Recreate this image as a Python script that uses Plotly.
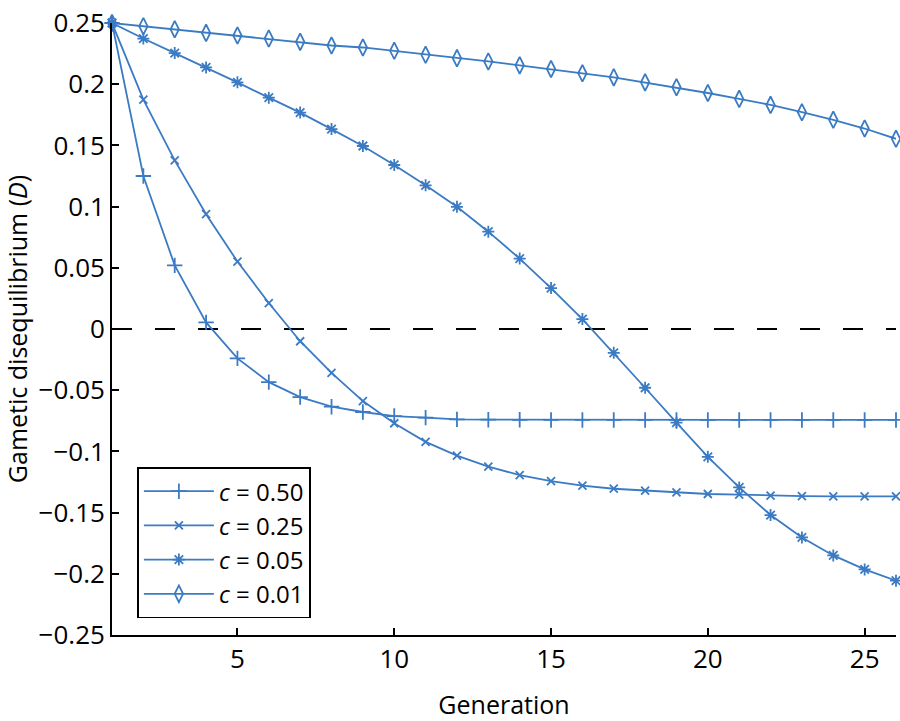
import plotly.graph_objects as go

generation = list(range(1, 27))

d_c050 = [0.25, 0.125, 0.052, 0.0054, -0.024, -0.0434, -0.0556, -0.0635, -0.0678, -0.0711,
          -0.0724, -0.0738, -0.0741, -0.0742, -0.0743, -0.0743, -0.0743, -0.0743, -0.0743, -0.0743,
          -0.0743, -0.0743, -0.0743, -0.0743, -0.0743, -0.0743]
d_c025 = [0.25, 0.1874, 0.1378, 0.0938, 0.0551, 0.0212, -0.010, -0.0358, -0.0589, -0.0770,
          -0.0922, -0.1035, -0.1125, -0.1193, -0.1242, -0.1280, -0.1305, -0.1321, -0.1334, -0.1348,
          -0.1353, -0.1361, -0.1365, -0.1367, -0.1367, -0.1367]
d_c005 = [0.25, 0.2373, 0.2254, 0.2137, 0.2015, 0.1890, 0.1768, 0.1633, 0.1495, 0.1340,
          0.1174, 0.0998, 0.0795, 0.0575, 0.0334, 0.0081, -0.0195, -0.0480, -0.0765, -0.1044,
          -0.1294, -0.1520, -0.1703, -0.1850, -0.1964, -0.2056]
d_c001 = [0.25, 0.2474, 0.2449, 0.2419, 0.2398, 0.2373, 0.2346, 0.2316, 0.2300, 0.2273,
          0.2240, 0.2213, 0.2186, 0.2154, 0.2124, 0.2089, 0.2056, 0.2015, 0.1975, 0.1928,
          0.1880, 0.1831, 0.1771, 0.1709, 0.1638, 0.1554]

series_names = ["<i>c</i> = 0.50", "<i>c</i> = 0.25", "<i>c</i> = 0.05", "<i>c</i> = 0.01"]
series_values = [d_c050, d_c025, d_c005, d_c001]
symbols = ["cross-thin-open", "x-thin-open", "asterisk-open", "diamond-tall-open"]
sizes = [11, 8, 10, 12]

y_ticks = [0.25, 0.2, 0.15, 0.1, 0.05, 0, -0.05, -0.1, -0.15, -0.2, -0.25]
y_ticktext = ["0.25", "0.2", "0.15", "0.1", "0.05", "0", "\u22120.05", "\u22120.1", "\u22120.15", "\u22120.2", "\u22120.25"]
x_ticks = [5, 10, 15, 20, 25]

color = "#3b7bc3"
font = "Open Sans, Noto Sans, sans-serif"

fig = go.Figure()

# zero reference line
fig.add_trace(go.Scatter(x=[generation[0], generation[-1]], y=[0, 0], mode="lines",
                         line=dict(color="black", width=1.8, dash="20px,23px"),
                         showlegend=False, hoverinfo="skip"))

for name, vals, sym, sz in zip(series_names, series_values, symbols, sizes):
    fig.add_trace(go.Scatter(
        x=generation, y=vals, mode="lines+markers", name=name,
        line=dict(color=color, width=1.8),
        marker=dict(symbol=sym, size=sz, color=color, line=dict(color=color, width=1.8)),
        cliponaxis=False,
    ))

fig.update_layout(
    width=900, height=721,
    margin=dict(l=112, r=4, t=19, b=86),
    paper_bgcolor="white", plot_bgcolor="white",
    font=dict(family=font, size=25, color="black"),
    showlegend=True,
    legend=dict(x=0.032, y=0.274, xanchor="left", yanchor="top",
                bordercolor="black", borderwidth=1.8, bgcolor="white",
                font=dict(size=24), itemwidth=70, tracegroupgap=0),
    xaxis=dict(range=[1, 26], tickvals=x_ticks, ticks="inside", ticklen=7, tickwidth=1.5,
               tickcolor="black", showline=True, linecolor="black", linewidth=1.8,
               showgrid=False, zeroline=False, tickfont=dict(size=26),
               title=dict(text="Generation", font=dict(size=25), standoff=22)),
    yaxis=dict(range=[-0.25, 0.25], tickvals=y_ticks, ticktext=y_ticktext, ticks="inside",
               ticklen=7, tickwidth=1.5, tickcolor="black", showline=True, linecolor="black",
               linewidth=1.8, showgrid=False, zeroline=False, tickfont=dict(size=26),
               title=dict(text="Gametic disequilibrium (<i>D</i>)", font=dict(size=25), standoff=4)),
)

fig.write_html("out.html")
